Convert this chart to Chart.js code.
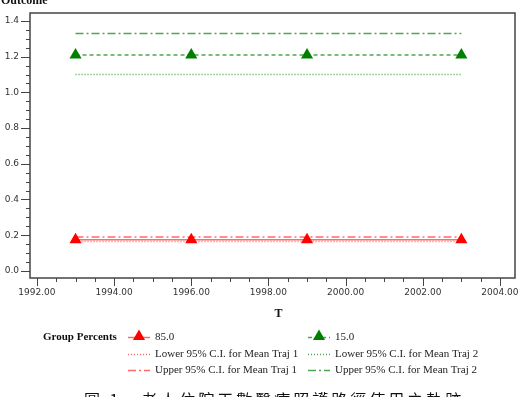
<!DOCTYPE html>
<html>
<head>
<meta charset="utf-8">
<script src="https://cdn.jsdelivr.net/npm/chart.js@4"></script>
<style>
  html, body { margin: 0; padding: 0; background: #fff; }
  #wrap { width: 528px; height: 397px; position: relative; }
</style>
</head>
<body>
<div id="wrap"><canvas id="traj-chart"></canvas></div>
<script>
"use strict";

// values
var years = [1993, 1996, 1999, 2003];
var traj1Mean = [0.175, 0.175, 0.175, 0.175];
var traj1Lower = [0.165, 0.165, 0.165, 0.165];
var traj1Upper = [0.19, 0.19, 0.19, 0.19];
var traj2Mean = [1.21, 1.21, 1.21, 1.21];
var traj2Lower = [1.1, 1.1, 1.1, 1.1];
var traj2Upper = [1.33, 1.33, 1.33, 1.33];

var legendLabels = [
    "85.0",
    "15.0",
    "Lower 95% C.I. for Mean Traj 1",
    "Lower 95% C.I. for Mean Traj 2",
    "Upper 95% C.I. for Mean Traj 1",
    "Upper 95% C.I. for Mean Traj 2",
];

var xTickLabels = ["1992.00", "1994.00", "1996.00", "1998.00", "2000.00", "2002.00", "2004.00"];
var yTickLabels = ["0.0", "0.2", "0.4", "0.6", "0.8", "1.0", "1.2", "1.4"];

var captionText = "圖 1   老人住院天數醫療照護路徑使用之軌跡";

function points(ys) {
    return years.map(function (x, i) {
        return { x: x, y: ys[i] };
    });
}

var serif = "'Liberation Serif', 'Times New Roman', serif";
var RED = "#ff0000";
var RED_LINE = "#ff6a6a";
var GREEN = "#008000";
var GREEN_LINE = "#4da64d";

function line(label, ys, color, dash, width, withPoints, pointColor, row, col) {
    return {
        label: label,
        data: points(ys),
        borderColor: color,
        borderWidth: width,
        borderDash: dash,
        backgroundColor: pointColor || color,
        pointStyle: "triangle",
        pointRadius: withPoints ? 7 : 0,
        pointBorderWidth: 0,
        pointBackgroundColor: pointColor || color,
        pointBorderColor: pointColor || color,
        legendRow: row,
        legendCol: col,
        tension: 0,
        fill: false,
    };
}

var datasets = [
    line(legendLabels[0], traj1Mean, RED_LINE, [], 1.5, true, RED, 0, 0),
    line(legendLabels[1], traj2Mean, GREEN_LINE, [4, 3], 1.5, true, GREEN, 0, 1),
    line(legendLabels[2], traj1Lower, RED_LINE, [1, 2], 1.5, false, null, 1, 0),
    line(legendLabels[3], traj2Lower, GREEN_LINE, [1, 2], 1.5, false, null, 1, 1),
    line(legendLabels[4], traj1Upper, RED_LINE, [8, 3, 2, 3], 1.5, false, null, 2, 0),
    line(legendLabels[5], traj2Upper, GREEN_LINE, [8, 3, 2, 3], 1.5, false, null, 2, 1),
];

function drawTriangle(ctx, x, y, r, color) {
    ctx.save();
    ctx.fillStyle = color;
    ctx.beginPath();
    ctx.moveTo(x, y - r);
    ctx.lineTo(x + r * 0.866, y + r * 0.5);
    ctx.lineTo(x - r * 0.866, y + r * 0.5);
    ctx.closePath();
    ctx.fill();
    ctx.restore();
}

// frame, tick marks, titles, legend and caption in the SAS style
var decorations = {
    id: "decorations",
    afterDraw: function (chart) {
        var ctx = chart.ctx;
        var area = chart.chartArea;
        var xs = chart.scales.x;
        var ys = chart.scales.y;

        ctx.save();
        ctx.strokeStyle = "#444";
        ctx.lineWidth = 1.5;
        ctx.strokeRect(area.left, area.top, area.right - area.left, area.bottom - area.top);

        ctx.lineWidth = 1;
        ctx.beginPath();
        xs.ticks.forEach(function (t) {
            var px = Math.round(xs.getPixelForValue(t.value)) + 0.5;
            var len = t.major ? 8 : 4;
            ctx.moveTo(px, area.bottom);
            ctx.lineTo(px, area.bottom + len);
        });
        ys.ticks.forEach(function (t) {
            var py = Math.round(ys.getPixelForValue(t.value)) + 0.5;
            var len = t.major ? 9 : 4;
            ctx.moveTo(area.left, py);
            ctx.lineTo(area.left - len, py);
        });
        ctx.stroke();

        ctx.fillStyle = "#111";
        ctx.font = "bold 12px " + serif;
        ctx.textAlign = "left";
        ctx.textBaseline = "alphabetic";
        ctx.fillText("Outcome", 1, 4);

        ctx.font = "bold 12px " + serif;
        ctx.textAlign = "center";
        ctx.fillText("T", (area.left + area.right) / 2 + 6, 317);

        // legend
        var rowY = [337, 354, 370];
        var colX = [128, 308];
        ctx.textAlign = "left";
        ctx.textBaseline = "middle";
        ctx.font = "bold 11px " + serif;
        ctx.fillText("Group Percents", 43, rowY[0]);
        ctx.font = "11px " + serif;
        chart.data.datasets.forEach(function (ds) {
            var x0 = colX[ds.legendCol];
            var y0 = Math.round(rowY[ds.legendRow]) + 0.5;
            ctx.save();
            ctx.strokeStyle = ds.borderColor;
            ctx.lineWidth = 1.5;
            ctx.setLineDash(ds.borderDash);
            ctx.beginPath();
            ctx.moveTo(x0, y0);
            ctx.lineTo(x0 + 22, y0);
            ctx.stroke();
            ctx.restore();
            if (ds.pointRadius > 0) {
                drawTriangle(ctx, x0 + 11, y0 - 1, 7, ds.pointBackgroundColor);
            }
            ctx.fillStyle = "#222";
            ctx.fillText(ds.label, x0 + 27, y0);
        });

        // caption, cut off by the bottom edge as in the source
        ctx.fillStyle = "#111";
        ctx.font = "16px 'Noto Sans CJK TC', 'Noto Sans CJK SC', sans-serif";
        ctx.textAlign = "left";
        ctx.textBaseline = "alphabetic";
        ctx.letterSpacing = "3px";
        ctx.fillText(captionText, 84, 406);
        ctx.restore();
    },
};

var ctx = document.getElementById("traj-chart").getContext("2d");

new Chart(ctx, {
    type: "line",
    data: { datasets: datasets },
    plugins: [decorations],
    options: {
        responsive: true,
        maintainAspectRatio: false,
        animation: false,
        layout: {
            padding: { left: 0, top: 13, right: 13, bottom: 89 },
        },
        scales: {
            x: {
                type: "linear",
                min: 1991.82,
                max: 2004.39,
                afterBuildTicks: function (scale) {
                    var ticks = [];
                    for (var i = 0; i <= 24; i++) {
                        var v = 1992 + i * 0.5;
                        ticks.push({ value: v, major: i % 4 === 0 });
                    }
                    scale.ticks = ticks;
                },
                afterFit: function (scale) {
                    scale.height = 30;
                    scale.paddingLeft = 0;
                    scale.paddingRight = 0;
                },
                grid: { display: false, drawTicks: false },
                border: { display: false },
                ticks: {
                    autoSkip: false,
                    maxRotation: 0,
                    padding: 9,
                    color: "#333",
                    font: { family: "'DejaVu Sans', sans-serif", size: 9 },
                    callback: function (value, index) {
                        return index % 4 === 0 ? xTickLabels[index / 4] : "";
                    },
                },
            },
            y: {
                type: "linear",
                min: -0.04,
                max: 1.445,
                afterBuildTicks: function (scale) {
                    var ticks = [];
                    for (var i = 0; i <= 28; i++) {
                        ticks.push({ value: (i * 5) / 100, major: i % 4 === 0 });
                    }
                    scale.ticks = ticks;
                },
                afterFit: function (scale) {
                    scale.width = 30;
                    scale.paddingTop = 0;
                    scale.paddingBottom = 0;
                },
                grid: { display: false, drawTicks: false },
                border: { display: false },
                ticks: {
                    autoSkip: false,
                    padding: 11,
                    color: "#333",
                    font: { family: "'DejaVu Sans', sans-serif", size: 9 },
                    callback: function (value, index) {
                        return index % 4 === 0 ? yTickLabels[index / 4] : "";
                    },
                },
            },
        },
        plugins: {
            legend: { display: false },
            tooltip: { enabled: false },
        },
    },
});
</script>
</body>
</html>
